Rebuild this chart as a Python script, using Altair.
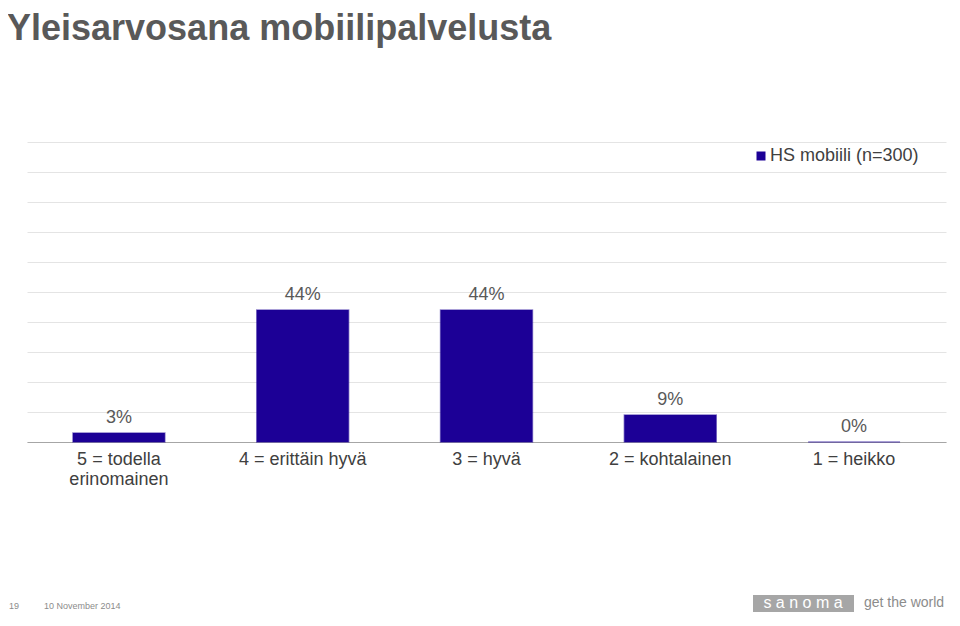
import altair as alt
import pandas as pd

categories = ["5 = todella\nerinomainen", "4 = erittäin hyvä", "3 = hyvä", "2 = kohtalainen", "1 = heikko"]
values = [3, 44, 44, 9, 0]
labels = ["3%", "44%", "44%", "9%", "0%"]
series = "HS mobiili (n=300)"

df = pd.DataFrame({"cat": categories, "val": values, "lab": labels, "series": [series] * 5})

FONT = "Liberation Sans"
BAR = "#1c0096"

x = alt.X("cat:N", sort=categories, title=None,
          scale=alt.Scale(paddingInner=0.5, paddingOuter=0.25),
          axis=alt.Axis(labelAngle=0, labelFontSize=18, labelColor="#404040", labelFont=FONT,
                        labelPadding=8, ticks=False, domainColor="#a6a6a6", domainWidth=1, grid=False,
                        labelLineHeight=20, labelExpr="split(datum.label, '\\n')", labelLimit=300))
y = alt.Y("val:Q", title=None, scale=alt.Scale(domain=[0, 100], nice=False),
          axis=alt.Axis(values=list(range(0, 101, 10)), labels=False, ticks=False, domain=False,
                        grid=True, gridColor="#e4e4e4", gridWidth=1))

bars = alt.Chart(df).mark_bar(strokeWidth=1.5, strokeOpacity=0.5).encode(
    x=x, y=y,
    color=alt.Color("series:N", scale=alt.Scale(domain=[series], range=[BAR]),
                    legend=alt.Legend(title=None, orient="none", legendX=725, legendY=5,
                                      symbolType="square", symbolSize=81, labelFontSize=18,
                                      labelOffset=0, labelFont=FONT, labelColor="#404040",
                                      symbolStrokeWidth=0)),
    stroke=alt.value(BAR),
)

text = alt.Chart(df).mark_text(baseline="bottom", dy=-6, fontSize=18, font=FONT, color="#595959").encode(
    x=x, y=y, text="lab:N")

anno = pd.DataFrame({"a": [0]})
title = alt.Chart(anno).mark_text(text="Yleisarvosana mobiilipalvelusta", align="left", baseline="alphabetic",
                                  fontSize=36, fontWeight="bold", font=FONT, color="#595959").encode(
    x=alt.value(-20), y=alt.value(-102))
page = alt.Chart(anno).mark_text(text="19", align="left", fontSize=9, font=FONT, color="#8c8c8c").encode(
    x=alt.value(-18), y=alt.value(464))
date = alt.Chart(anno).mark_text(text="10 November 2014", align="left", fontSize=9, font=FONT, color="#8c8c8c").encode(
    x=alt.value(17), y=alt.value(464))
logo_box = alt.Chart(anno).mark_rect(color="#a6a6a6").encode(
    x=alt.value(726), x2=alt.value(827), y=alt.value(453), y2=alt.value(470))
logo_txt = alt.Chart(anno).mark_text(text="s   a   n   o   m   a", align="center", fontSize=16, font=FONT,
                                     color="white").encode(
    x=alt.value(776), y=alt.value(461))
tag = alt.Chart(anno).mark_text(text="get the world", align="left", fontSize=14, font=FONT, color="#8c8c8c").encode(
    x=alt.value(837), y=alt.value(461))

chart = alt.layer(bars, text, title, page, date, logo_box, logo_txt, tag).properties(
    width=919, height=300,
    background="white",
    autosize=alt.AutoSizeParams(type="none"),
    padding={"left": 19, "top": 134, "right": 6, "bottom": 170},
).configure_view(stroke=None)

chart.save("out.html", embed_options={"renderer": "svg", "actions": False})
